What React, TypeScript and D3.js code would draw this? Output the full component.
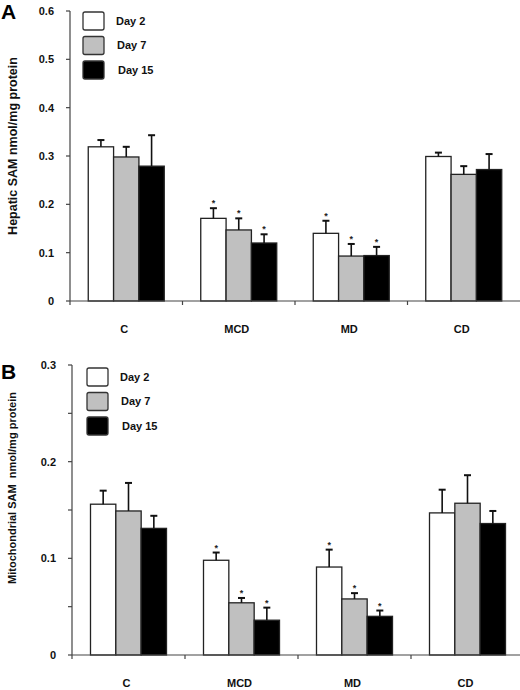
import React from "react";
import * as d3 from "d3";

const categories = ["C", "MCD", "MD", "CD"];
const series = ["Day 2", "Day 7", "Day 15"];
const seriesFill = ["#ffffff", "#c0c0c0", "#000000"];

// Panel A: Hepatic SAM
const hepDay2 = [0.319, 0.171, 0.140, 0.299];
const hepDay7 = [0.298, 0.147, 0.093, 0.262];
const hepDay15 = [0.279, 0.120, 0.094, 0.272];
const hepErrDay2 = [0.014, 0.021, 0.026, 0.008];
const hepErrDay7 = [0.021, 0.024, 0.025, 0.017];
const hepErrDay15 = [0.064, 0.018, 0.018, 0.032];
const hepStar = [false, true, true, false];
const hepTicks = [0, 0.1, 0.2, 0.3, 0.4, 0.5, 0.6];
const hepTickLabels = ["0", "0.1", "0.2", "0.3", "0.4", "0.5", "0.6"];

// Panel B: Mitochondrial SAM
const mitoDay2 = [0.156, 0.098, 0.091, 0.147];
const mitoDay7 = [0.149, 0.054, 0.058, 0.157];
const mitoDay15 = [0.131, 0.036, 0.040, 0.136];
const mitoErrDay2 = [0.014, 0.008, 0.018, 0.024];
const mitoErrDay7 = [0.029, 0.005, 0.006, 0.029];
const mitoErrDay15 = [0.013, 0.013, 0.006, 0.013];
const mitoStar = [false, true, true, false];
const mitoTicks = [0, 0.05, 0.1, 0.15, 0.2, 0.25, 0.3];
const mitoTickLabels = ["0", "", "0.1", "", "0.2", "", "0.3"];

const FONT = "'Liberation Sans', Arial, sans-serif";
const AXIS = "#444";

type PanelProps = {
  letter: string;
  letterY: number;
  title: string;
  titleX: number;
  titleY: number;
  titleSize: number;
  values: number[][];
  errors: number[][];
  stars: boolean[];
  ticks: number[];
  tickLabels: string[];
  yMax: number;
  yTop: number;
  yBottom: number;
  xLeft: number;
  xRight: number;
  catLabelY: number;
  legendX: number;
  legendY: number;
  legendStep: number;
};

function Panel(p: PanelProps) {
  const y = d3.scaleLinear().domain([0, p.yMax]).range([p.yBottom, p.yTop]);
  const x = d3.scaleBand<string>().domain(categories).range([p.xLeft, p.xRight]);
  const groupW = 76;
  const sub = d3.scaleBand<string>().domain(series).range([0, groupW]);
  const bounds = categories.slice(1).map((c) => x(c) as number);
  return (
    <g>
      <text x={1} y={p.letterY} fontFamily={FONT} fontWeight="bold" fontSize={21} fill="#000">
        {p.letter}
      </text>
      <text
        transform={`translate(${p.titleX},${p.titleY}) rotate(-90)`}
        textAnchor="middle"
        fontFamily={FONT}
        fontWeight="bold"
        fontSize={p.titleSize}
        fill="#111"
        style={{ whiteSpace: "pre" }}
      >
        {p.title}
      </text>
      {/* y axis */}
      <line x1={p.xLeft} x2={p.xLeft} y1={y(p.yMax)} y2={p.yBottom + 4} stroke={AXIS} strokeWidth={1.2} />
      {p.ticks.map((t, i) => (
        <g key={"t" + i}>
          <line x1={p.xLeft - 4} x2={p.xLeft} y1={y(t)} y2={y(t)} stroke={AXIS} strokeWidth={1.2} />
          {p.tickLabels[i] && (
            <text
              x={p.xLeft - 16}
              y={y(t)}
              dy="0.35em"
              textAnchor="end"
              fontFamily={FONT}
              fontWeight="bold"
              fontSize={11}
              fill="#111"
            >
              {p.tickLabels[i]}
            </text>
          )}
        </g>
      ))}
      {/* bars */}
      {categories.map((c, ci) => {
        const gx = (x(c) as number) + x.bandwidth() / 2 - groupW / 2;
        return (
          <g key={c}>
            {series.map((s, si) => {
              const v = p.values[si][ci];
              const e = p.errors[si][ci];
              const bx = gx + (sub(s) as number);
              const bw = sub.bandwidth();
              const cx = bx + bw / 2;
              const top = y(v + e);
              return (
                <g key={s}>
                  <rect
                    x={bx}
                    y={y(v)}
                    width={bw}
                    height={p.yBottom - y(v)}
                    fill={seriesFill[si]}
                    stroke="#222"
                    strokeWidth={1.3}
                  />
                  <line x1={cx} x2={cx} y1={y(v)} y2={top} stroke="#111" strokeWidth={1.6} />
                  <line x1={cx - 3.5} x2={cx + 3.5} y1={top} y2={top} stroke="#111" strokeWidth={2} />
                  {p.stars[ci] && (
                    <text
                      x={cx}
                      y={top - 2}
                      textAnchor="middle"
                      fontFamily={FONT}
                      fontWeight="bold"
                      fontSize={9}
                      fill="#222"
                    >
                      *
                    </text>
                  )}
                </g>
              );
            })}
          </g>
        );
      })}
      {/* x axis */}
      <line x1={p.xLeft} x2={520} y1={p.yBottom} y2={p.yBottom} stroke={AXIS} strokeWidth={1.2} />
      {bounds.map((b, i) => (
        <line key={"b" + i} x1={b} x2={b} y1={p.yBottom} y2={p.yBottom + 4} stroke={AXIS} strokeWidth={1.2} />
      ))}
      {categories.map((c) => (
        <text
          key={"l" + c}
          x={(x(c) as number) + x.bandwidth() / 2 - 2}
          y={p.catLabelY}
          textAnchor="middle"
          fontFamily={FONT}
          fontWeight="bold"
          fontSize={11}
          fill="#111"
        >
          {c}
        </text>
      ))}
      {/* legend */}
      {series.map((s, si) => (
        <g key={"lg" + s}>
          <rect
            x={p.legendX}
            y={p.legendY + si * p.legendStep}
            width={21}
            height={18}
            rx={2}
            fill={seriesFill[si]}
            stroke="#333"
            strokeWidth={1.3}
          />
          <text
            x={p.legendX + 33 + si * 1}
            y={p.legendY + si * p.legendStep + 9}
            dy="0.35em"
            fontFamily={FONT}
            fontWeight="bold"
            fontSize={11}
            fill="#111"
          >
            {s}
          </text>
        </g>
      ))}
    </g>
  );
}

export default function App() {
  return (
    <svg width={520} height={690} style={{ position: "absolute", left: 0, top: 0, background: "#fff" }}>
      <rect width={520} height={690} fill="#fff" />
      <Panel
        letter="A"
        letterY={19}
        title="Hepatic SAM nmol/mg protein"
        titleX={17}
        titleY={146}
        titleSize={12.5}
        values={[hepDay2, hepDay7, hepDay15]}
        errors={[hepErrDay2, hepErrDay7, hepErrDay15]}
        stars={hepStar}
        ticks={hepTicks}
        tickLabels={hepTickLabels}
        yMax={0.6}
        yTop={11}
        yBottom={301}
        xLeft={70}
        xRight={520}
        catLabelY={333}
        legendX={83}
        legendY={12}
        legendStep={24.5}
      />
      <Panel
        letter="B"
        letterY={379}
        title="Mitochondrial SAM  nmol/mg protein"
        titleX={16}
        titleY={488}
        titleSize={11}
        values={[mitoDay2, mitoDay7, mitoDay15]}
        errors={[mitoErrDay2, mitoErrDay7, mitoErrDay15]}
        stars={mitoStar}
        ticks={mitoTicks}
        tickLabels={mitoTickLabels}
        yMax={0.3}
        yTop={365}
        yBottom={655}
        xLeft={72}
        xRight={524}
        catLabelY={687}
        legendX={87}
        legendY={368}
        legendStep={24.5}
      />
    </svg>
  );
}
